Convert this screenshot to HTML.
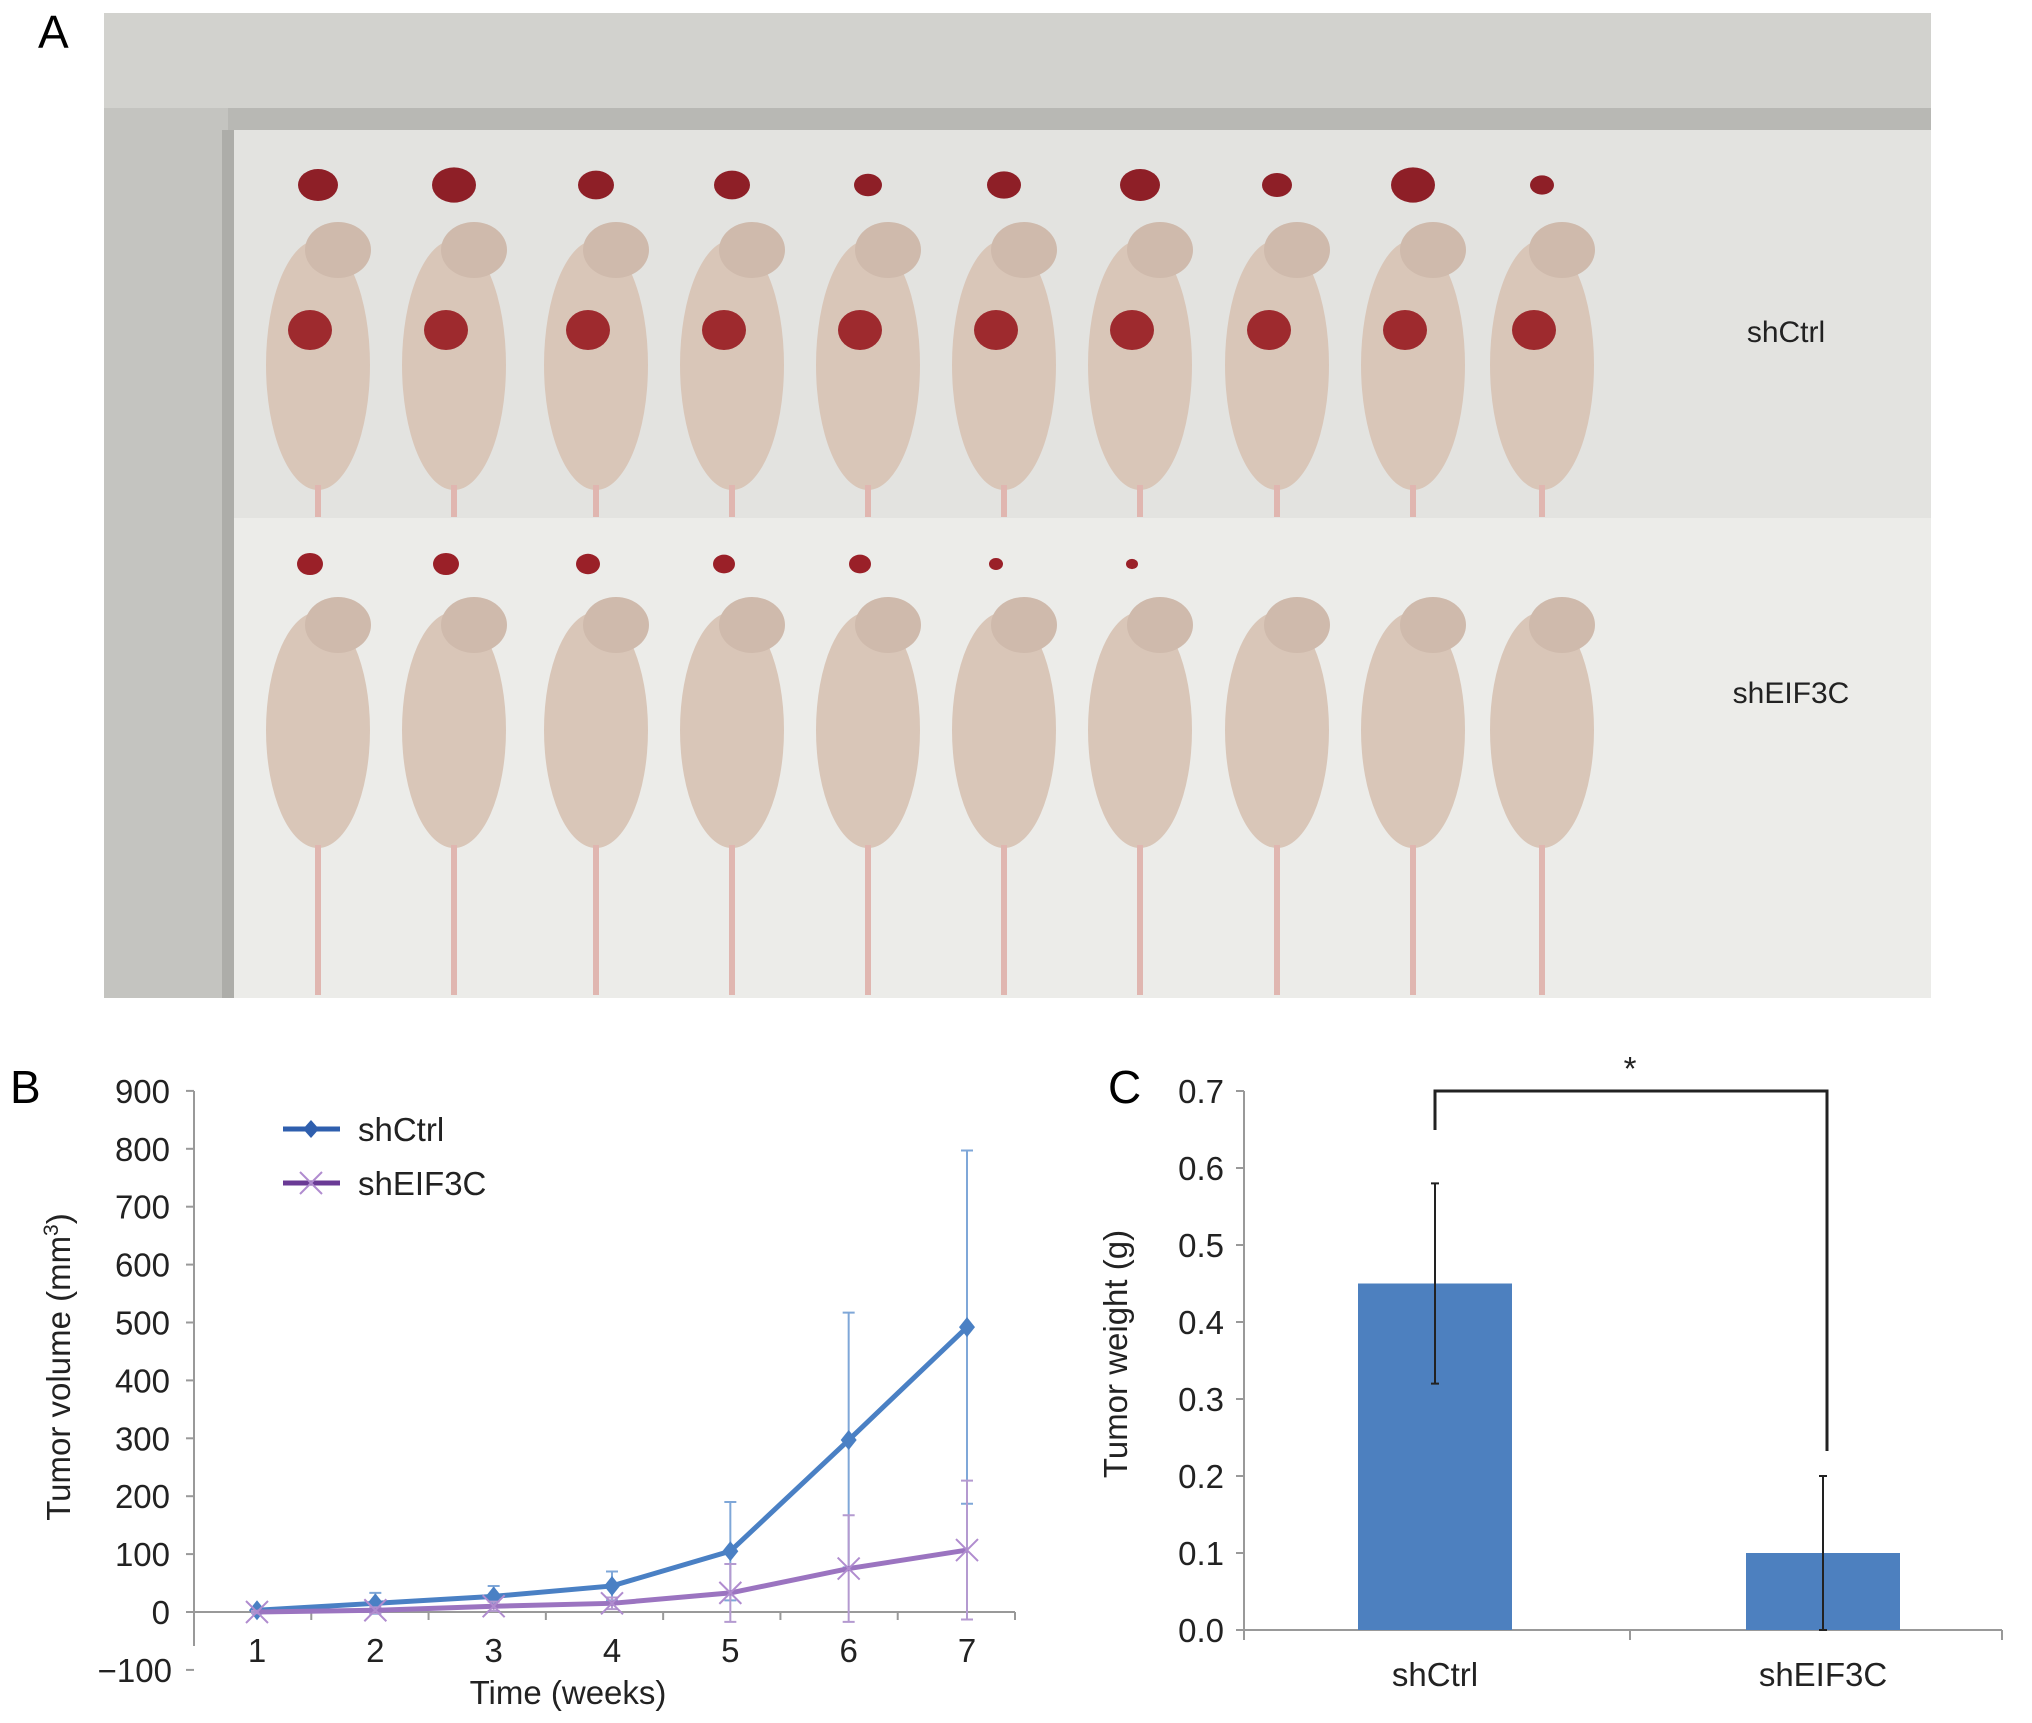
<!DOCTYPE html>
<html><head><meta charset="utf-8"><style>
body{margin:0;background:#fff;}
svg{display:block;font-family:"Liberation Sans",Arial,sans-serif;}
</style></head><body>
<svg width="2032" height="1723" viewBox="0 0 2032 1723">
<rect width="2032" height="1723" fill="#fff"/>
<text x="38" y="48" font-size="46">A</text>
<g id="photo">
 <rect x="104" y="13" width="1827" height="985" fill="#e2e2df"/>
 <rect x="104" y="13" width="130" height="985" fill="#c4c4c0"/>
 <rect x="104" y="13" width="1827" height="95" fill="#d2d2ce"/>
 <rect x="228" y="108" width="1703" height="22" fill="#b8b8b4"/>
 <rect x="222" y="130" width="12" height="868" fill="#adada9"/>
 <rect x="234" y="130" width="1697" height="388" fill="#e3e3e0"/>
 <rect x="234" y="518" width="1697" height="480" fill="#ecece9"/>
</g>
<g id="mice"></g>
<text x="1786" y="342" font-size="30" text-anchor="middle" fill="#222">shCtrl</text>
<text x="1791" y="703" font-size="30" text-anchor="middle" fill="#222">shEIF3C</text>

<text x="10" y="1103" font-size="46">B</text>
<g id="chartB"></g>
<text x="1108" y="1103" font-size="46">C</text>
<g id="chartC"></g>
</svg>
<script>
const NS="http://www.w3.org/2000/svg";
function mk(p,tag,a,txt){const e=document.createElementNS(NS,tag);for(const k in a)e.setAttribute(k,a[k]);if(txt!==undefined)e.textContent=txt;p.appendChild(e);return e;}

const mice=document.getElementById('mice');
const mouseX=[318,454,596,732,868,1004,1140,1277,1413,1542];
const topTumorR=[20,22,18,18,14,17,20,15,22,12];
const botTumorR=[13,13,12,11,11,7,6,0,0,0];
mouseX.forEach((x,i)=>{
  const g=mk(mice,'g',{});
  
  
  mk(g,'ellipse',{cx:x,cy:365,rx:52,ry:125,fill:'#d9c6b8'});
  mk(g,'ellipse',{cx:x+20,cy:250,rx:33,ry:28,fill:'#cfbaac'});
  mk(g,'rect',{x:x-3,y:485,width:6,height:32,fill:'#e0b6b0'});
  mk(g,'ellipse',{cx:x-8,cy:330,rx:22,ry:20,fill:'#9e2a2e'});
  mk(g,'ellipse',{cx:x,cy:185,rx:topTumorR[i],ry:topTumorR[i]*0.8,fill:'#8e1f27'});
  const h=mk(mice,'g',{});
  
  
  mk(h,'ellipse',{cx:x,cy:730,rx:52,ry:118,fill:'#d9c6b8'});
  mk(h,'ellipse',{cx:x+20,cy:625,rx:33,ry:28,fill:'#cfbaac'});
  mk(h,'rect',{x:x-3,y:845,width:6,height:150,fill:'#e0b6b0'});
  if(botTumorR[i]>0) mk(h,'ellipse',{cx:x-8,cy:564,rx:botTumorR[i],ry:botTumorR[i]*0.85,fill:'#9a2028'});
});

// ===== Chart B data =====
const weeks=[1,2,3,4,5,6,7];
const ctrlVals=[3,15,27,45,105,297,492];
const ctrlErr=[5,18,18,25,85,220,305];
const eifVals=[0,3,10,15,33,75,107];
const eifErr=[2,5,8,10,50,92,120];
const yTicksB=[-100,0,100,200,300,400,500,600,700,800,900];

const B=document.getElementById('chartB');
const bx=w=>257+(w-1)*(967-257)/6;
const by=v=>1612-v*0.579;
mk(B,'line',{x1:194,y1:1091,x2:194,y2:1646,stroke:'#999',"stroke-width":2});
mk(B,'line',{x1:194,y1:by(0),x2:1015,y2:by(0),stroke:'#999',"stroke-width":2});
yTicksB.forEach(t=>{
  const l=mk(B,'line',{x1:186,y1:by(t),x2:194,y2:by(t),stroke:'#999',"stroke-width":2});
  
  const tx=mk(B,'text',{x:t<0?172:170,y:by(t)+12,"font-size":33,"text-anchor":"end",fill:'#222'},t<0?'\u2212100':String(t));
  
});
for(let k=0;k<=7;k++){const x=194+k*(1015-194)/7;
  mk(B,'line',{x1:x,y1:by(0),x2:x,y2:by(0)+8,stroke:'#999',"stroke-width":2});}
weeks.forEach(w=>{const t=mk(B,'text',{x:bx(w),y:1662,"font-size":33,"text-anchor":"middle",fill:'#222'},String(w));
  });
const yt=mk(B,'text',{transform:'translate(70,1367) rotate(-90)',"font-size":33,"text-anchor":"middle",fill:'#222'});

yt.innerHTML='Tumor volume (mm<tspan dy="-12" font-size="21">3</tspan><tspan dy="12">)</tspan>';
const xt=mk(B,'text',{x:568,y:1704,"font-size":33,"text-anchor":"middle",fill:'#222'},'Time (weeks)');


function series(vals,errs,col,errCol,marker,name){
  vals.forEach((v,i)=>{const x=bx(weeks[i]);
    const e=mk(B,'path',{d:`M${x},${by(v+errs[i])}V${by(v-errs[i])}M${x-6},${by(v+errs[i])}h12M${x-6},${by(v-errs[i])}h12`,stroke:errCol,"stroke-width":2,fill:'none'});
    });
  const pl=mk(B,'polyline',{points:vals.map((v,i)=>bx(weeks[i])+','+by(v)).join(' '),fill:'none',stroke:col,"stroke-width":5});
  
  vals.forEach((v,i)=>{const x=bx(weeks[i]),y=by(v);let m;
    if(marker==='d') m=mk(B,'path',{d:`M${x},${y-10}L${x+8},${y}L${x},${y+10}L${x-8},${y}Z`,fill:col});
    else m=mk(B,'path',{d:`M${x-11},${y-11}L${x+11},${y+11}M${x-11},${y+11}L${x+11},${y-11}`,stroke:'#b08ccf',"stroke-width":2});
    });
}
series(ctrlVals,ctrlErr,'#4a80c4','#7fa7d8','d','shctrl');
series(eifVals,eifErr,'#9b74c0','#b49ad0','x','sheif3c');
const lg1=mk(B,'g',{});
mk(lg1,'line',{x1:283,y1:1129,x2:340,y2:1129,stroke:'#2f5fae',"stroke-width":5});
mk(lg1,'path',{d:'M311,1120L319,1129L311,1138L303,1129Z',fill:'#2f5fae'});
mk(lg1,'text',{x:358,y:1141,"font-size":33,fill:'#222'},'shCtrl');
const lg2=mk(B,'g',{});
mk(lg2,'line',{x1:283,y1:1183,x2:340,y2:1183,stroke:'#6a3a95',"stroke-width":5});
mk(lg2,'path',{d:'M300,1172L322,1194M300,1194L322,1172',stroke:'#b08ccf',"stroke-width":2});
mk(lg2,'text',{x:358,y:1195,"font-size":33,fill:'#222'},'shEIF3C');

// ===== Chart C data =====
const groups=['shCtrl','shEIF3C'];
const weightVals=[0.45,0.10];
const weightErr=[0.13,0.10];
const yTicksC=[0.0,0.1,0.2,0.3,0.4,0.5,0.6,0.7];

const C=document.getElementById('chartC');
const cy=v=>1630-v*(1630-1091)/0.7;
const cx=i=>1435+i*(1823-1435);
mk(C,'line',{x1:1244,y1:1091,x2:1244,y2:1640,stroke:'#999',"stroke-width":2});
mk(C,'line',{x1:1244,y1:1630,x2:2002,y2:1630,stroke:'#999',"stroke-width":2});
[1244,1630,2002].forEach(x=>mk(C,'line',{x1:x,y1:1630,x2:x,y2:1640,stroke:'#999',"stroke-width":2}));
yTicksC.forEach(t=>{
  mk(C,'line',{x1:1236,y1:cy(t),x2:1244,y2:cy(t),stroke:'#999',"stroke-width":2});
  const tx=mk(C,'text',{x:1224,y:cy(t)+12,"font-size":33,"text-anchor":"end",fill:'#222'},t.toFixed(1));
  
});
const ct=mk(C,'text',{transform:'translate(1127,1354) rotate(-90)',"font-size":33,"text-anchor":"middle",fill:'#222'},'Tumor weight (g)');

groups.forEach((g,i)=>{
  const r=mk(C,'rect',{x:cx(i)-77,y:cy(weightVals[i]),width:154,height:1630-cy(weightVals[i]),fill:'#4d80bf'});
  
  const lo=Math.max(0,weightVals[i]-weightErr[i]),hi=weightVals[i]+weightErr[i];
  const e=mk(C,'path',{d:`M${cx(i)},${cy(hi)}V${cy(lo)}M${cx(i)-4},${cy(hi)}h8M${cx(i)-4},${cy(lo)}h8`,stroke:'#222',"stroke-width":2,fill:'none'});
  
  const t=mk(C,'text',{x:cx(i),y:1686,"font-size":33,"text-anchor":"middle",fill:'#222'},g);
  
});
const br=mk(C,'path',{d:`M${cx(0)},1130V1091H${cx(1)+4}V1451`,stroke:'#222',"stroke-width":3,fill:'none'});

const st=mk(C,'text',{x:1630,y:1080,"font-size":33,"text-anchor":"middle",fill:'#222'},'*');

</script>
</body></html>
